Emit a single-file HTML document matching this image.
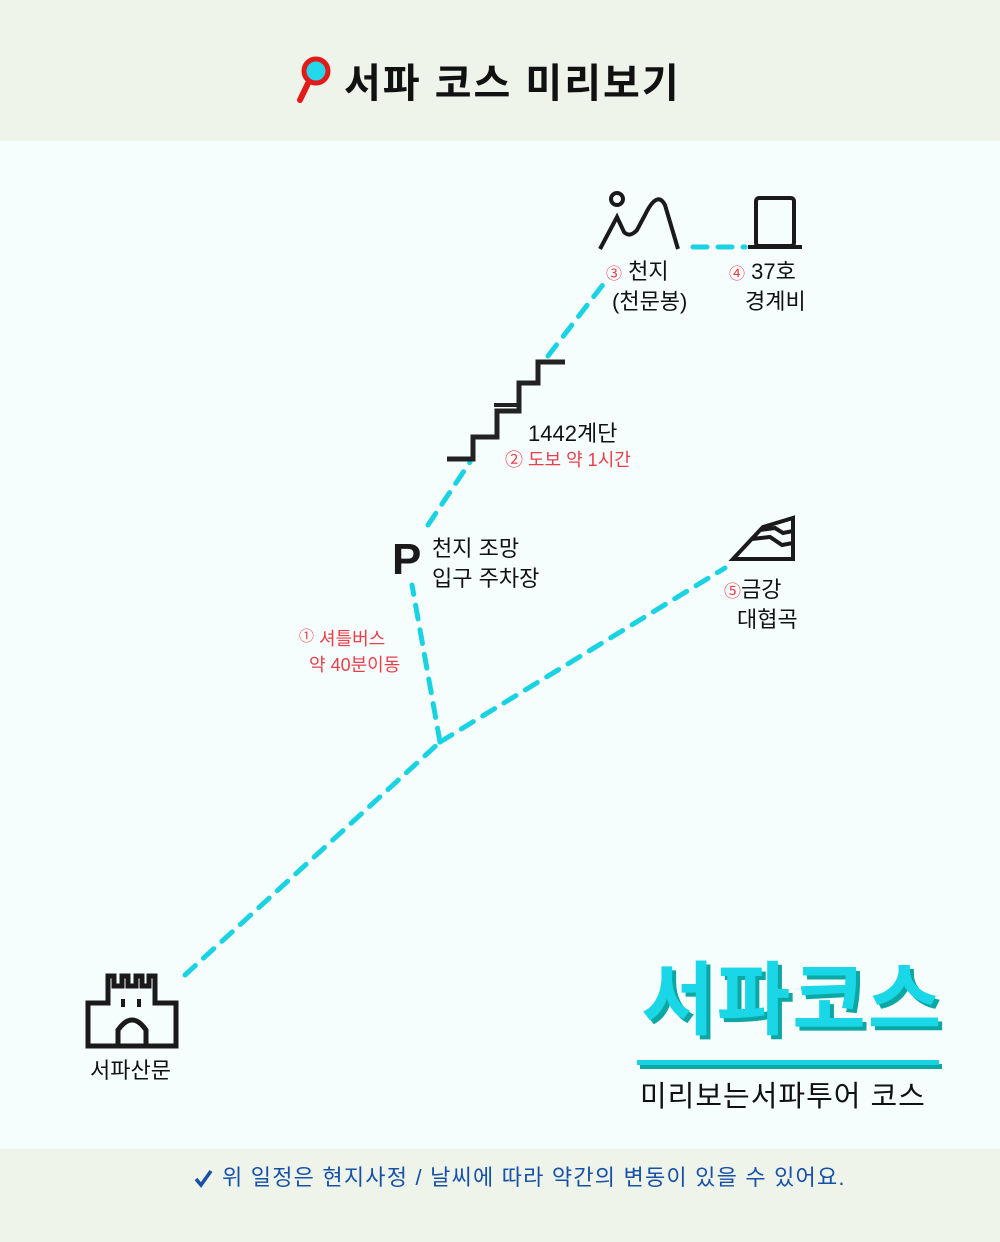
<!DOCTYPE html>
<html><head><meta charset="utf-8"><style>
body{margin:0;width:1000px;height:1242px;position:relative;background:#f6fdfd;font-family:"Liberation Sans","Noto Sans CJK KR",sans-serif;overflow:hidden}
.t{position:absolute;white-space:nowrap;color:#111}
.r{color:#e8404a}
</style></head><body>
<div style="position:absolute;left:0;top:0;width:1000px;height:141px;background:#eef4ea"></div>
<div style="position:absolute;left:0;top:1149px;width:1000px;height:93px;background:#eef4ea"></div>
<svg style="position:absolute;left:0;top:0" width="1000" height="1242">
<g stroke="#19d3e3" stroke-width="5" stroke-dasharray="14 11" stroke-linecap="round" fill="none">
<path d="M185,975 L440,742"/>
<path d="M440,742 L412,585"/>
<path d="M440,742 L725,568"/>
<path d="M428,525 L470,462"/>
<path d="M548,356 L605,282"/>
<path d="M693,247 L745,247"/>
</g>
<line x1="312" y1="75" x2="300" y2="100" stroke="#e31a1a" stroke-width="6" stroke-linecap="round"/>
<circle cx="316" cy="71" r="12" fill="#22d8ea" stroke="#e31a1a" stroke-width="5"/>
<polyline points="447,459 473,459 473,437 497,437 497,411 519,411 519,383 538,383 538,362 565,362" fill="none" stroke="#222" stroke-width="5"/>
<line x1="494" y1="405" x2="519" y2="405" stroke="#222" stroke-width="4"/>
<g fill="none" stroke="#1a1a1a" stroke-width="4">
<circle cx="617" cy="199" r="6"/>
<path d="M600,249 L617,217 L624,232 Q630,238 637,230 L645,215 Q657,190 665,205 L678,249"/>
<rect x="756" y="198" width="38" height="48" rx="3"/>
<line x1="748" y1="247" x2="802" y2="247"/>
<path d="M733,559 L763,527 L793,518 L793,559 Z M752,539 L770,537 L782,545 L793,543 M760,530 L775,528 L783,533 L793,531"/>
</g>
<path d="M88,1046 L88,1003 L108,1003 L108,976 L114,976 L114,986 L122,986 L122,976 L128,976 L128,986 L136,986 L136,976 L142,976 L142,986 L149,986 L149,976 L155,976 L155,1003 L176,1003 L176,1046 Z" fill="none" stroke="#1a1a1a" stroke-width="5"/>
<path d="M118,1046 L118,1030 Q132,1010 146,1030 L146,1046" fill="none" stroke="#1a1a1a" stroke-width="5"/>
<rect x="121" y="999" width="4" height="8" fill="#1a1a1a"/><rect x="137" y="999" width="4" height="8" fill="#1a1a1a"/>
<text x="392" y="574" font-family="Liberation Sans" font-weight="bold" font-size="44" fill="#1a1a1a">P</text>
<rect x="640" y="1064" width="302" height="5" fill="#0aa7a4"/>
<rect x="637" y="1060" width="302" height="5" fill="#19d3e3"/>
<path d="M196,1179 l5,6 l10,-14" stroke="#1650a8" stroke-width="3.5" fill="none"/>
</svg>
<div class="t" style="left:344px;top:51px;font-size:40px;font-weight:bold;letter-spacing:2px">서파 코스 미리보기</div>
<div class="t" style="left:606px;top:254px;font-size:22px"><span class="r" style="font-size:16px">③</span> 천지</div>
<div class="t" style="left:612px;top:284px;font-size:22px">(천문봉)</div>
<div class="t" style="left:729px;top:254px;font-size:22px"><span class="r" style="font-size:16px">④</span> 37호</div>
<div class="t" style="left:745px;top:284px;font-size:22px">경계비</div>
<div class="t" style="left:528px;top:416px;font-size:22px">1442계단</div>
<div class="t r" style="left:505px;top:446px;font-size:18px">② 도보 약 1시간</div>
<div class="t" style="left:432px;top:534px;font-size:22px;line-height:30px">천지 조망<br>입구 주차장</div>
<div class="t r" style="left:299px;top:624px;font-size:18px;line-height:26px"><span style="font-size:15px;vertical-align:4px">①</span> 셔틀버스<br>&nbsp;&nbsp;약 40분이동</div>
<div class="t" style="left:724px;top:572px;font-size:22px"><span class="r" style="font-size:17px">⑤</span>금강</div>
<div class="t" style="left:737px;top:602px;font-size:22px">대협곡</div>
<div class="t" style="left:90px;top:1053px;font-size:22px">서파산문</div>
<div class="t" style="left:645px;top:940px;font-size:80px;font-weight:bold;color:#0aa7a4;letter-spacing:2px">서파코스</div>
<div class="t" style="left:641px;top:936px;font-size:80px;font-weight:bold;color:#19d7e6;letter-spacing:2px">서파코스</div>
<div class="t" style="left:640px;top:1073px;font-size:29px;letter-spacing:1px">미리보는서파투어 코스</div>
<div class="t" style="left:222px;top:1160px;font-size:22px;letter-spacing:1.2px;color:#1650a8">위 일정은 현지사정 / 날씨에 따라 약간의 변동이 있을 수 있어요.</div>
</body></html>
